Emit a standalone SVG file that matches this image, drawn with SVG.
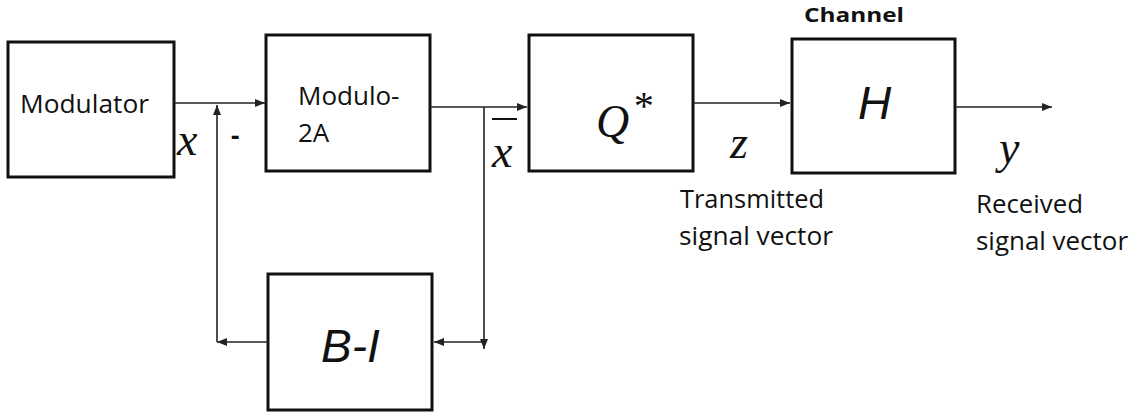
<svg xmlns="http://www.w3.org/2000/svg" width="1148" height="416" viewBox="0 0 1148 416">
<style>
.box{fill:#fff;stroke:#111;stroke-width:3}
.lbl{font-family:"Open Sans","Noto Sans",sans-serif;font-size:26px;fill:#111}
.math{font-family:"Liberation Serif","DejaVu Serif",serif;font-style:italic;fill:#111}
.big{font-family:"Liberation Sans",Arial,sans-serif;font-style:italic;font-size:46px;fill:#111}
.conn line,.conn path{stroke:#222;stroke-width:1.6;fill:none}
</style>
<defs>
<marker id="ah" viewBox="0 0 10 8" refX="10" refY="4" markerWidth="10" markerHeight="8" markerUnits="userSpaceOnUse" orient="auto">
<path d="M0,0 L10,4 L0,8 Z" fill="#222"/>
</marker>
</defs>
<rect width="1148" height="416" fill="#fff"/>
<g id="modulator">
<rect class="box" x="8" y="42" width="166" height="135"/>
<text class="lbl" x="20" y="113" textLength="129" lengthAdjust="spacingAndGlyphs">Modulator</text>
</g>
<g id="modulo">
<rect class="box" x="266" y="35" width="164" height="136"/>
<text class="lbl" x="298" y="105">Modulo-</text>
<text class="lbl" x="298" y="142">2A</text>
</g>
<g id="quant">
<rect class="box" x="529" y="35" width="164" height="136"/>
<text class="math" x="596" y="137" font-size="46">Q</text>
<text class="math" x="632" y="119" font-size="40" font-style="normal">*</text>
</g>
<g id="channel">
<rect class="box" x="792" y="39" width="163" height="134"/>
<text class="big" x="858" y="119">H</text>
<text x="804" y="22" font-family="Open Sans,Noto Sans,sans-serif" font-weight="bold" font-size="20" fill="#111" textLength="100" lengthAdjust="spacingAndGlyphs">Channel</text>
</g>
<g id="bminusi">
<rect class="box" x="268" y="274" width="164" height="136"/>
<text class="big" x="321" y="362">B-I</text>
</g>
<g class="conn" id="connectors">
<line x1="174" y1="103" x2="265" y2="103" marker-end="url(#ah)"/>
<line x1="430" y1="107" x2="527" y2="107" marker-end="url(#ah)"/>
<line x1="693" y1="103" x2="790" y2="103" marker-end="url(#ah)"/>
<line x1="955" y1="107" x2="1052" y2="107" marker-end="url(#ah)"/>
<line x1="484" y1="107" x2="484" y2="349" marker-end="url(#ah)"/>
<line x1="484" y1="342" x2="434" y2="342" marker-end="url(#ah)"/>
<line x1="268" y1="342" x2="217" y2="342" marker-end="url(#ah)"/>
<line x1="217" y1="342" x2="217" y2="105" marker-end="url(#ah)"/>
</g>
<g id="labels">
<text class="math" x="177" y="155" font-size="46">x</text>
<text class="lbl" x="231" y="145" font-weight="bold">-</text>
<line x1="492" y1="119" x2="517" y2="119" stroke="#111" stroke-width="2"/>
<text class="math" x="492" y="167" font-size="46">x</text>
<text class="math" x="730" y="158" font-size="46">z</text>
<text class="math" x="999" y="163" font-size="46">y</text>
<text class="lbl" x="680" y="208" textLength="144" lengthAdjust="spacingAndGlyphs">Transmitted</text>
<text class="lbl" x="679" y="245" textLength="154" lengthAdjust="spacingAndGlyphs">signal vector</text>
<text class="lbl" x="976" y="213" textLength="107" lengthAdjust="spacingAndGlyphs">Received</text>
<text class="lbl" x="976" y="250" textLength="152" lengthAdjust="spacingAndGlyphs">signal vector</text>
</g>
</svg>
